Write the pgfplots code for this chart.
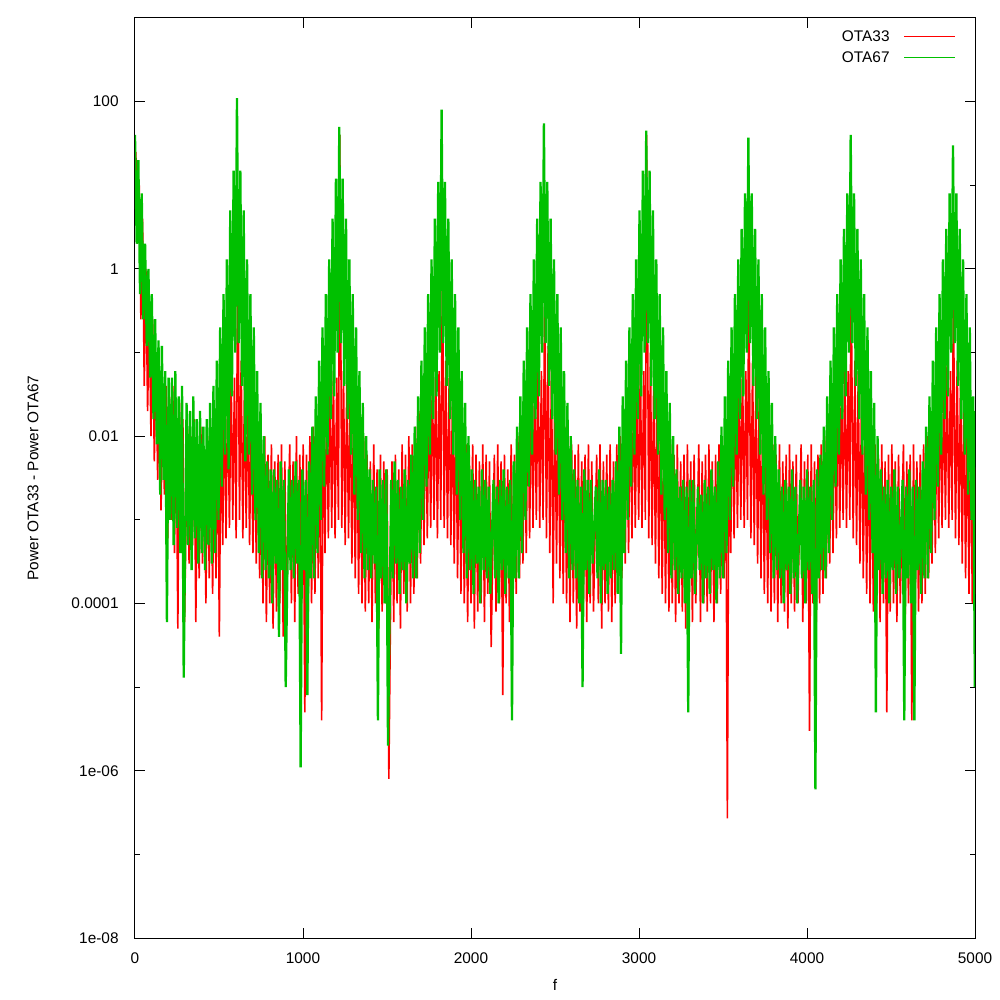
\documentclass[border=0pt]{standalone}
\usepackage{fontspec}
\setmainfont{Liberation Sans}
\usepackage{pgfplots}
\pgfplotsset{compat=1.18}
\definecolor{gpred}{RGB}{255,0,0}
\definecolor{gpgreen}{RGB}{0,192,0}
\begin{document}
\begin{tikzpicture}
\useasboundingbox (-67.5pt,-31pt) rectangle (432.5pt,469pt);
\begin{axis}[
 at={(0pt,0pt)}, anchor=south west,
 scale only axis, width=420pt, height=460pt,
 xmin=0, xmax=5000, ymin=1e-8, ymax=1000,
 ymode=log,
 xtick={0,1000,2000,3000,4000,5000},
 xticklabels={0,1000,2000,3000,4000,5000},
 ytick={1e-8,1e-6,1e-4,1e-2,1,100},
 yticklabels={1e-08,1e-06,0.0001,0.01,1,100},
 minor ytick={1e-7,1e-5,1e-3,1e-1,10},
 major tick length=5pt, minor tick length=2.5pt,
 tick style={black, line width=0.5pt},
 axis line style={line width=0.5pt},
 tick label style={font=\fontsize{7.7pt}{9pt}\selectfont},
 xticklabel style={anchor=center, inner sep=0pt, yshift=-10pt},
 yticklabel style={anchor=east, inner sep=0pt, xshift=-8pt},
 xlabel={f}, ylabel={Power OTA33 - Power OTA67},
 label style={font=\fontsize{7.7pt}{9pt}\selectfont},
 xlabel style={at={(axis description cs:0.5,-0.0511)}, anchor=center},
 ylabel style={at={(axis description cs:-0.1214,0.5)}, anchor=center},
 legend plot pos=right,
 legend cell align=right,
 legend image code/.code={\draw[#1, line width=0.5pt] (0pt,0pt) -- (25.5pt,0pt);},
 legend style={draw=none, fill=none, at={(axis description cs:1,1)}, anchor=north east,
   xshift=-9.5pt, yshift=-3.75pt, inner sep=0pt, column sep=7pt, row sep=0pt,
   font=\fontsize{7.7pt}{9pt}\selectfont,
   nodes={inner xsep=0pt, inner ysep=0pt, text height=5.6pt, text depth=0pt, minimum height=10.5pt}},
]
\addplot[gpred, line width=0.8pt, line join=bevel] coordinates {
(5,25)(15,2)(25,10)(35,0.25)(45,4)(55,0.04)(65,1)(75,0.02)(85,0.3)(95,0.01)(105,0.25)(115,0.005)(125,0.1)(135,0.003)(145,0.05)(155,0.0013)(165,0.03)(175,0.002)(185,0.04)(195,6e-4)(205,0.03)(215,0.001)(225,0.04)(235,4e-4)(245,0.02)(255,5e-5)(265,0.025)(275,6e-4)(285,0.016)(295,6e-5)
(312,0.013)(322,3e-4)(332,0.01)(342,5e-4)(352,0.016)(362,6e-5)(372,0.008)(382,2e-4)(392,0.013)(402,3e-4)(412,0.006)(422,1e-4)(432,0.01)(442,2e-4)(452,0.008)(462,1.3e-4)(472,0.01)(482,2e-4)(492,0.016)(502,4e-5)(512,0.02)(522,5e-4)(532,0.03)(542,6e-4)(552,0.05)(562,8e-4)(572,0.06)(582,0.001)(592,0.05)(602,6e-4)(612,2.5)(622,0.001)(632,0.08)(642,6e-4)(652,0.05)(662,8e-4)(672,0.04)(682,5e-4)(692,0.025)(702,4e-4)(712,0.016)(722,3e-4)(732,0.01)(742,2e-4)(752,0.008)(762,1e-4)(772,0.01)(782,6e-5)(792,0.006)(802,1e-4)(812,0.008)(822,5e-5)(832,0.005)(842,8e-5)(852,0.006)(862,1e-4)(872,0.008)(882,4e-5)(892,0.005)(902,8e-5)
(921,0.008)(931,1e-4)(941,0.005)(951,6e-5)(961,0.01)(971,1.3e-4)(981,0.006)(991,1e-4)(1001,0.008)(1011,5e-6)(1021,0.006)(1031,8e-5)(1041,0.01)(1051,1e-4)(1061,0.013)(1071,1.3e-4)(1081,0.01)(1091,2e-4)(1101,0.02)(1111,4e-6)(1121,0.03)(1131,4e-4)(1141,0.04)(1151,6e-4)(1161,0.05)(1171,8e-4)(1181,0.06)(1191,6e-4)(1201,0.05)(1211,0.001)(1219,40)(1231,8e-4)(1241,0.06)(1251,5e-4)(1261,0.05)(1271,6e-4)(1281,0.04)(1291,3e-4)(1301,0.03)(1311,2e-4)(1321,0.02)(1331,1.3e-4)(1341,0.016)(1351,1e-4)(1361,0.01)(1371,8e-5)(1381,0.006)(1391,1e-4)(1401,0.005)(1411,6e-5)(1421,0.008)(1431,1e-4)(1441,0.004)(1451,5e-5)(1461,0.006)(1471,8e-5)(1481,0.005)(1491,1e-4)(1501,0.004)(1511,8e-7)
(1530,0.005)(1540,6e-5)(1550,0.006)(1560,1e-4)(1570,0.004)(1580,5e-5)(1590,0.008)(1600,1.3e-4)(1610,0.006)(1620,8e-5)(1630,0.01)(1640,1e-4)(1650,0.008)(1660,1.3e-4)(1670,0.013)(1680,2e-4)(1690,0.02)(1700,3e-4)(1710,0.03)(1720,5e-4)(1730,0.04)(1740,6e-4)(1750,0.05)(1760,8e-4)(1770,0.06)(1780,0.001)(1790,0.08)(1800,6e-4)(1810,0.06)(1820,0.001)(1830,1.5)(1840,8e-4)(1850,0.08)(1860,6e-4)(1870,0.05)(1880,5e-4)(1890,0.04)(1900,3e-4)(1910,0.03)(1920,2e-4)(1930,0.02)(1940,1.3e-4)(1950,0.013)(1960,1e-4)(1970,0.008)(1980,6e-5)(1990,0.006)(2000,1e-4)(2010,0.008)(2020,5e-5)(2030,0.006)(2040,8e-5)(2050,0.005)(2060,1e-4)(2070,0.008)(2080,6e-5)(2090,0.006)(2100,1.3e-4)(2110,0.005)(2120,3e-5)
(2139,0.006)(2149,8e-5)(2159,0.008)(2169,1e-4)(2179,0.005)(2189,8e-6)(2199,0.006)(2209,1e-4)(2219,0.004)(2229,6e-5)(2239,0.008)(2249,1e-4)(2259,0.006)(2269,1.3e-4)(2279,0.01)(2289,2e-4)(2299,0.016)(2309,3e-4)(2319,0.025)(2329,4e-4)(2339,0.04)(2349,6e-4)(2359,0.05)(2369,8e-4)(2379,0.06)(2389,0.001)(2399,0.08)(2409,8e-4)(2419,0.06)(2429,0.001)(2439,0.8)(2449,6e-4)(2459,0.12)(2469,4e-4)(2479,0.08)(2489,1e-4)(2499,0.05)(2509,3e-4)(2519,0.03)(2529,2e-4)(2539,0.02)(2549,1.3e-4)(2559,0.013)(2569,1e-4)(2579,0.01)(2589,6e-5)(2599,0.008)(2609,1e-4)(2619,0.006)(2629,5e-5)(2639,0.008)(2649,8e-5)(2659,0.005)(2669,1e-4)(2679,0.006)(2689,6e-5)(2699,0.008)(2709,1e-4)(2719,0.005)(2729,8e-5)
(2748,0.006)(2758,1e-4)(2768,0.008)(2778,5e-5)(2788,0.005)(2798,1e-4)(2808,0.006)(2818,8e-5)(2828,0.008)(2838,6e-5)(2848,0.005)(2858,1e-4)(2868,0.008)(2878,1.3e-4)(2888,0.01)(2898,2e-4)(2908,0.016)(2918,3e-4)(2928,0.025)(2938,4e-4)(2948,0.04)(2958,6e-4)(2968,0.05)(2978,8e-4)(2988,0.06)(2998,0.001)(3008,0.08)(3018,8e-4)(3028,0.06)(3038,0.001)(3045,40)(3058,6e-4)(3068,0.1)(3078,5e-4)(3088,0.06)(3098,3e-4)(3108,0.04)(3118,2e-4)(3128,0.025)(3138,1.3e-4)(3148,0.016)(3158,1e-4)(3168,0.01)(3178,8e-5)(3188,0.008)(3198,1e-4)(3208,0.006)(3218,6e-5)(3228,0.008)(3238,1e-4)(3248,0.005)(3258,8e-5)(3268,0.006)(3278,5e-5)(3288,0.008)(3298,1e-4)(3308,0.005)(3318,6e-5)(3328,0.006)(3338,1e-4)
(3356,0.008)(3366,6e-5)(3376,0.005)(3386,1e-4)(3396,0.006)(3406,8e-5)(3416,0.008)(3426,1e-4)(3436,0.005)(3446,6e-5)(3456,0.006)(3466,1e-4)(3476,0.008)(3486,1.3e-4)(3496,0.01)(3506,2e-4)(3516,0.016)(3526,2.7e-7)(3536,0.025)(3546,4e-4)(3556,0.04)(3566,6e-4)(3576,0.05)(3586,8e-4)(3596,0.06)(3606,0.001)(3616,0.08)(3626,8e-4)(3636,0.06)(3646,0.001)(3653,0.9)(3666,6e-4)(3676,0.08)(3686,5e-4)(3696,0.06)(3706,3e-4)(3716,0.04)(3726,2e-4)(3736,0.025)(3746,1.3e-4)(3756,0.016)(3766,1e-4)(3776,0.01)(3786,8e-5)(3796,0.008)(3806,1e-4)(3816,0.006)(3826,6e-5)(3836,0.008)(3846,1e-4)(3856,0.005)(3866,8e-5)(3876,0.006)(3886,5e-5)(3896,0.008)(3906,1e-4)(3916,0.005)(3926,8e-5)(3936,0.006)(3946,1e-4)
(3965,0.008)(3975,6e-5)(3985,0.005)(3995,1e-4)(4005,0.006)(4015,3e-6)(4025,0.008)(4035,1e-4)(4045,0.005)(4055,6e-5)(4065,0.006)(4075,1e-4)(4085,0.008)(4095,1.3e-4)(4105,0.01)(4115,2e-4)(4125,0.016)(4135,3e-4)(4145,0.025)(4155,4e-4)(4165,0.04)(4175,6e-4)(4185,0.05)(4195,8e-4)(4205,0.06)(4215,0.001)(4225,0.08)(4235,8e-4)(4245,0.06)(4255,0.001)(4262,1.3)(4275,6e-4)(4285,0.08)(4295,5e-4)(4305,0.06)(4315,3e-4)(4325,0.04)(4335,2e-4)(4345,0.025)(4355,1.3e-4)(4365,0.016)(4375,1e-4)(4385,0.01)(4395,8e-5)(4405,0.008)(4415,1e-4)(4425,0.006)(4435,6e-5)(4445,0.008)(4455,1e-4)(4465,0.005)(4475,5e-6)(4485,0.006)(4495,8e-5)(4505,0.008)(4515,1e-4)(4525,0.005)(4535,6e-5)(4545,0.006)(4555,1e-4)
(4574,0.008)(4584,6e-5)(4594,0.005)(4604,1e-4)(4614,0.006)(4624,4e-6)(4634,0.008)(4644,1e-4)(4654,0.005)(4664,8e-5)(4674,0.006)(4684,1e-4)(4694,0.008)(4704,1.3e-4)(4714,0.01)(4724,2e-4)(4734,0.016)(4744,3e-4)(4754,0.025)(4764,4e-4)(4774,0.04)(4784,6e-4)(4794,0.05)(4804,8e-4)(4814,0.06)(4824,0.001)(4834,0.08)(4844,8e-4)(4854,0.06)(4864,0.001)(4871,0.6)(4884,6e-4)(4894,0.08)(4904,5e-4)(4914,0.06)(4924,3e-4)(4934,0.04)(4944,2e-4)(4954,0.025)(4964,1.3e-4)(4974,0.016)(4984,1e-4)(4994,0.01)(5000,1.3e-4)
};
\addlegendentry{OTA33}
\addplot[gpgreen, line width=1.15pt, line join=bevel] coordinates {
(0,40)(10,2)(20,20)(30,0.5)(40,8)(50,0.25)(60,2)(70,0.12)(80,1)(90,0.05)(100,0.5)(110,0.016)(120,0.25)(130,0.008)(140,0.14)(150,0.002)(160,0.12)(170,0.003)(180,0.06)(190,6e-5)(200,0.05)(210,0.001)(220,0.05)(230,5e-4)(240,0.06)(250,8e-4)(260,0.03)(270,4e-4)(280,0.04)(290,1.3e-5)
(307,0.025)(317,5e-4)(327,0.02)(337,2.5e-4)(347,0.03)(357,6e-4)(367,0.016)(377,3e-4)(387,0.02)(397,4e-4)(407,0.013)(417,2.5e-4)(427,0.016)(437,5e-4)(447,0.025)(457,3e-4)(467,0.04)(477,4e-4)(487,0.08)(497,0.001)(507,0.2)(517,0.0025)(527,0.5)(537,0.006)(547,1.3)(557,0.004)(567,5)(577,0.03)(587,15)(597,0.1)(607,110)(617,0.13)(627,15)(637,0.04)(647,5)(657,0.005)(667,1.3)(677,0.006)(687,0.5)(697,0.002)(707,0.2)(717,0.001)(727,0.06)(737,4e-4)(747,0.025)(757,2e-4)(767,0.01)(777,2.5e-4)(787,0.005)(797,2e-4)(807,0.004)(817,1e-4)(827,0.004)(837,3e-4)(847,0.003)(857,4e-5)(867,0.005)(877,2.5e-4)(887,0.003)(897,1e-5)
(916,0.004)(926,2.5e-4)(936,0.003)(946,2e-4)(956,0.005)(966,3e-4)(976,0.003)(986,1.1e-6)(996,0.004)(1006,2.5e-4)(1016,0.003)(1026,8e-6)(1036,0.005)(1046,2e-4)(1056,0.013)(1066,2e-4)(1076,0.03)(1086,4e-4)(1096,0.08)(1106,0.001)(1116,0.2)(1126,0.0025)(1136,0.5)(1146,0.006)(1156,1.3)(1166,0.016)(1176,4)(1186,0.03)(1196,12)(1206,0.1)(1216,50)(1226,0.13)(1236,12)(1246,0.04)(1256,4)(1266,0.016)(1276,1.3)(1286,0.006)(1296,0.5)(1306,0.002)(1316,0.2)(1326,0.001)(1336,0.06)(1346,4e-4)(1356,0.025)(1366,2e-4)(1376,0.01)(1386,2.5e-4)(1396,0.004)(1406,2e-4)(1416,0.003)(1426,3e-4)(1436,0.0025)(1446,4e-6)(1456,0.004)(1466,2e-4)(1476,0.003)(1486,1e-4)(1496,0.004)(1506,2e-6)
(1525,0.003)(1535,2e-4)(1545,0.005)(1555,3e-4)(1565,0.003)(1575,1.3e-4)(1585,0.0025)(1595,2.5e-4)(1605,0.004)(1615,1e-4)(1625,0.003)(1635,3e-4)(1645,0.006)(1655,2e-4)(1665,0.013)(1675,2e-4)(1685,0.03)(1695,4e-4)(1705,0.08)(1715,0.001)(1725,0.2)(1735,0.0025)(1745,0.5)(1755,0.006)(1765,1.3)(1775,0.016)(1785,4)(1795,0.03)(1805,11)(1815,0.1)(1825,80)(1835,0.13)(1845,11)(1855,0.04)(1865,4)(1875,0.016)(1885,1.3)(1895,0.006)(1905,0.5)(1915,0.002)(1925,0.2)(1935,0.001)(1945,0.06)(1955,4e-4)(1965,0.025)(1975,2e-4)(1985,0.01)(1995,2.5e-4)(2005,0.004)(2015,1.3e-4)(2025,0.003)(2035,3e-4)(2045,0.0025)(2055,1e-4)(2065,0.004)(2075,2.5e-4)(2085,0.003)(2095,2e-4)(2105,0.0025)(2115,1.3e-4)
(2134,0.003)(2144,2e-4)(2154,0.0025)(2164,1e-4)(2174,0.003)(2184,2.5e-4)(2194,0.004)(2204,1.3e-4)(2214,0.0025)(2224,2e-4)(2234,0.003)(2244,4e-6)(2254,0.005)(2264,2e-4)(2274,0.013)(2284,2e-4)(2294,0.03)(2304,4e-4)(2314,0.08)(2324,0.001)(2334,0.2)(2344,0.0025)(2354,0.5)(2364,0.006)(2374,1.3)(2384,0.016)(2394,4)(2404,0.03)(2414,11)(2424,0.1)(2434,55)(2444,0.13)(2454,11)(2464,0.04)(2474,4)(2484,0.016)(2494,1.3)(2504,0.006)(2514,0.5)(2524,0.002)(2534,0.2)(2544,0.001)(2554,0.06)(2564,4e-4)(2574,0.025)(2584,2e-4)(2594,0.01)(2604,2.5e-4)(2614,0.004)(2624,2e-4)(2634,0.003)(2644,1e-4)(2654,0.0025)(2664,1e-5)(2674,0.004)(2684,2.5e-4)(2694,0.003)(2704,1.3e-4)(2714,0.003)(2724,3e-4)
(2743,0.0025)(2753,2e-4)(2763,0.004)(2773,1e-4)(2783,0.003)(2793,2.5e-4)(2803,0.003)(2813,1.3e-4)(2823,0.0025)(2833,2e-4)(2843,0.003)(2853,2.5e-4)(2863,0.005)(2873,1.3e-4)(2883,0.013)(2893,2.5e-5)(2903,0.03)(2913,4e-4)(2923,0.08)(2933,0.001)(2943,0.2)(2953,0.0025)(2963,0.5)(2973,0.006)(2983,1.3)(2993,0.016)(3003,5)(3013,0.03)(3023,15)(3033,0.1)(3043,45)(3053,0.13)(3063,15)(3073,0.04)(3083,5)(3093,0.016)(3103,1.3)(3113,0.006)(3123,0.5)(3133,0.002)(3143,0.2)(3153,0.001)(3163,0.06)(3173,4e-4)(3183,0.025)(3193,2e-4)(3203,0.01)(3213,2.5e-4)(3223,0.004)(3233,1.3e-4)(3243,0.0025)(3253,2e-4)(3263,0.003)(3273,1e-4)(3283,0.0025)(3293,5e-6)(3303,0.003)(3313,2e-4)(3323,0.003)(3333,1.3e-4)
(3351,0.0025)(3361,2.5e-4)(3371,0.002)(3381,1e-4)(3391,0.003)(3401,2e-4)(3411,0.0025)(3421,1.3e-4)(3431,0.004)(3441,2.5e-4)(3451,0.0025)(3461,1e-4)(3471,0.005)(3481,2e-4)(3491,0.013)(3501,2e-4)(3511,0.03)(3521,4e-4)(3531,0.08)(3541,0.001)(3551,0.2)(3561,0.0025)(3571,0.5)(3581,0.006)(3591,1.3)(3601,0.016)(3611,3)(3621,0.03)(3631,8)(3641,0.1)(3651,37)(3661,0.13)(3671,8)(3681,0.04)(3691,3)(3701,0.016)(3711,1.3)(3721,0.006)(3731,0.5)(3741,0.002)(3751,0.2)(3761,0.001)(3771,0.06)(3781,4e-4)(3791,0.025)(3801,2e-4)(3811,0.01)(3821,2.5e-4)(3831,0.004)(3841,2e-4)(3851,0.0025)(3861,1e-4)(3871,0.003)(3881,2.5e-4)(3891,0.0025)(3901,1.3e-4)(3911,0.004)(3921,2e-4)(3931,0.0025)(3941,1e-4)
(3960,0.003)(3970,2e-4)(3980,0.0025)(3990,1e-4)(4000,0.004)(4010,2.5e-4)(4020,0.0025)(4030,1.3e-4)(4040,0.003)(4050,6e-7)(4060,0.004)(4070,2e-4)(4080,0.006)(4090,2.5e-4)(4100,0.013)(4110,2e-4)(4120,0.03)(4130,4e-4)(4140,0.08)(4150,0.001)(4160,0.2)(4170,0.0025)(4180,0.5)(4190,0.006)(4200,1.3)(4210,0.016)(4220,3)(4230,0.03)(4240,8)(4250,0.1)(4260,40)(4270,0.13)(4280,8)(4290,0.04)(4300,3)(4310,0.016)(4320,1.3)(4330,0.006)(4340,0.5)(4350,0.002)(4360,0.2)(4370,0.001)(4380,0.06)(4390,4e-4)(4400,0.025)(4410,5e-6)(4420,0.01)(4430,2.5e-4)(4440,0.004)(4450,1.3e-4)(4460,0.0025)(4470,2e-4)(4480,0.003)(4490,1e-4)(4500,0.0025)(4510,2.5e-4)(4520,0.004)(4530,1.3e-4)(4540,0.0025)(4550,2e-4)
(4569,0.003)(4579,4e-6)(4589,0.0025)(4599,2e-4)(4609,0.004)(4619,1e-4)(4629,0.0025)(4639,4e-6)(4649,0.003)(4659,2.5e-4)(4669,0.0025)(4679,1.3e-4)(4689,0.005)(4699,2e-4)(4709,0.013)(4719,2e-4)(4729,0.03)(4739,4e-4)(4749,0.08)(4759,0.001)(4769,0.2)(4779,0.0025)(4789,0.5)(4799,0.006)(4809,1.3)(4819,0.016)(4829,3)(4839,0.03)(4849,8)(4859,0.1)(4869,30)(4879,0.13)(4889,8)(4899,0.04)(4909,3)(4919,0.016)(4929,1.3)(4939,0.006)(4949,0.5)(4959,0.002)(4969,0.2)(4979,0.001)(4989,0.03)(4999,1e-5)(5000,0.02)
};
\addlegendentry{OTA67}
\end{axis}
\end{tikzpicture}
\end{document}
